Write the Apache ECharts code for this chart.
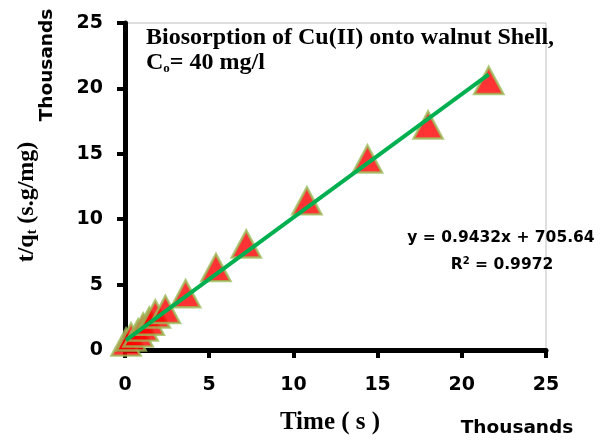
<!DOCTYPE html>
<html>
<head>
<meta charset="utf-8">
<script src="https://cdn.jsdelivr.net/npm/echarts@6/dist/echarts.min.js"></script>
<style>html,body{margin:0;padding:0;background:#fff;}#c{width:602px;height:441px;}</style>
</head>
<body>
<div id="c"></div>
<script>
// Data (seconds, s.g/mg)
var timeS = [60, 360, 780, 1080, 1440, 1800, 2400, 3600, 5400, 7200, 10800, 14400, 18000, 21600];
var tOverQ = [600, 1000, 1300, 1750, 2200, 2750, 3100, 4300, 6300, 8100, 11400, 14600, 17200, 20600];
var axisTicks = [0, 5000, 10000, 15000, 20000, 25000];
var slope = 0.9432;
var intercept = 705.64;

var points = timeS.map(function (t, i) { return [t, tOverQ[i]]; });
var xMin = Math.min.apply(null, timeS), xMax = Math.max.apply(null, timeS);
var trend = [[xMin, slope * xMin + intercept], [xMax, slope * xMax + intercept]];

var sans = '"DejaVu Sans", sans-serif';
var times = '"Liberation Serif", "Times New Roman", serif';

var chart = echarts.init(document.getElementById('c'));
var axisCommon = {
  type: 'value',
  min: axisTicks[0],
  max: axisTicks[axisTicks.length - 1],
  interval: axisTicks[1] - axisTicks[0],
  splitLine: { show: false },
  axisLine: { show: true, lineStyle: { color: '#000', width: 5 } },
  axisTick: { show: true, length: 8, lineStyle: { color: '#000', width: 4 } },
  axisLabel: {
    color: '#000', fontFamily: sans, fontWeight: 'bold', fontSize: 19,
    formatter: function (v) { return String(v / 1000); }
  }
};
chart.setOption({
  animation: false,
  grid: { left: 125, right: 56, top: 23, bottom: 91, show: true, borderColor: '#bfbfbf', borderWidth: 1 },
  xAxis: Object.assign({}, axisCommon, { axisLabel: Object.assign({}, axisCommon.axisLabel, { margin: 26 }) }),
  yAxis: Object.assign({}, axisCommon, { axisLabel: Object.assign({}, axisCommon.axisLabel, { margin: 22 }) }),
  series: [
    {
      type: 'scatter',
      data: points,
      symbol: 'triangle',
      symbolSize: [29, 27],
      itemStyle: { color: '#ff0000', borderColor: '#9bbb59', borderWidth: 2.5 },
      z: 2
    },
    {
      type: 'line',
      data: trend,
      showSymbol: false,
      symbol: 'none',
      lineStyle: { color: '#00b050', width: 4 },
      z: 3
    }
  ],
  graphic: [
    {
      type: 'text', left: 146, top: 25,
      style: {
        text: 'Biosorption of Cu(II) onto walnut Shell,\n{c|C}{s|o}{c|= 40 mg/l}',
        fill: '#000', font: 'bold 24px ' + times, lineHeight: 25,
        rich: {
          c: { font: 'bold 24px ' + times, fill: '#000' },
          s: { font: 'bold 13px ' + times, fill: '#000', verticalAlign: 'bottom', padding: [10, 0, 0, 0] }
        }
      }
    },
    {
      type: 'text', x: 501, y: 238,
      style: {
        text: 'y = 0.9432x + 705.64', fill: '#000', font: 'bold 15.5px ' + sans,
        textAlign: 'center', textVerticalAlign: 'middle'
      }
    },
    {
      type: 'text', x: 502, y: 265,
      style: {
        text: 'R{sup|2} = 0.9972', fill: '#000', font: 'bold 15.5px ' + sans,
        textAlign: 'center', textVerticalAlign: 'middle',
        rich: { sup: { font: 'bold 10px ' + sans, fill: '#000', padding: [0, 0, 8, 0] } }
      }
    },
    {
      type: 'text', x: 330, y: 423,
      style: { text: 'Time ( s )', fill: '#000', font: 'bold 25px ' + times, textAlign: 'center', textVerticalAlign: 'middle' }
    },
    {
      type: 'text', x: 517, y: 428,
      style: { text: 'Thousands', fill: '#000', font: 'bold 18.5px ' + sans, textAlign: 'center', textVerticalAlign: 'middle' }
    },
    {
      type: 'text', x: 47, y: 65, rotation: Math.PI / 2,
      style: { text: 'Thousands', fill: '#000', font: 'bold 18.5px ' + sans, textAlign: 'center', textVerticalAlign: 'middle' }
    },
    {
      type: 'text', x: 27, y: 202, rotation: Math.PI / 2,
      style: {
        text: 't/q{sub|t} (s.g/mg)', fill: '#000', font: 'bold 24px ' + times,
        textAlign: 'center', textVerticalAlign: 'middle',
        rich: { sub: { font: 'bold 14px ' + times, fill: '#000', padding: [10, 0, 0, 0] } }
      }
    }
  ]
});
</script>
</body>
</html>
